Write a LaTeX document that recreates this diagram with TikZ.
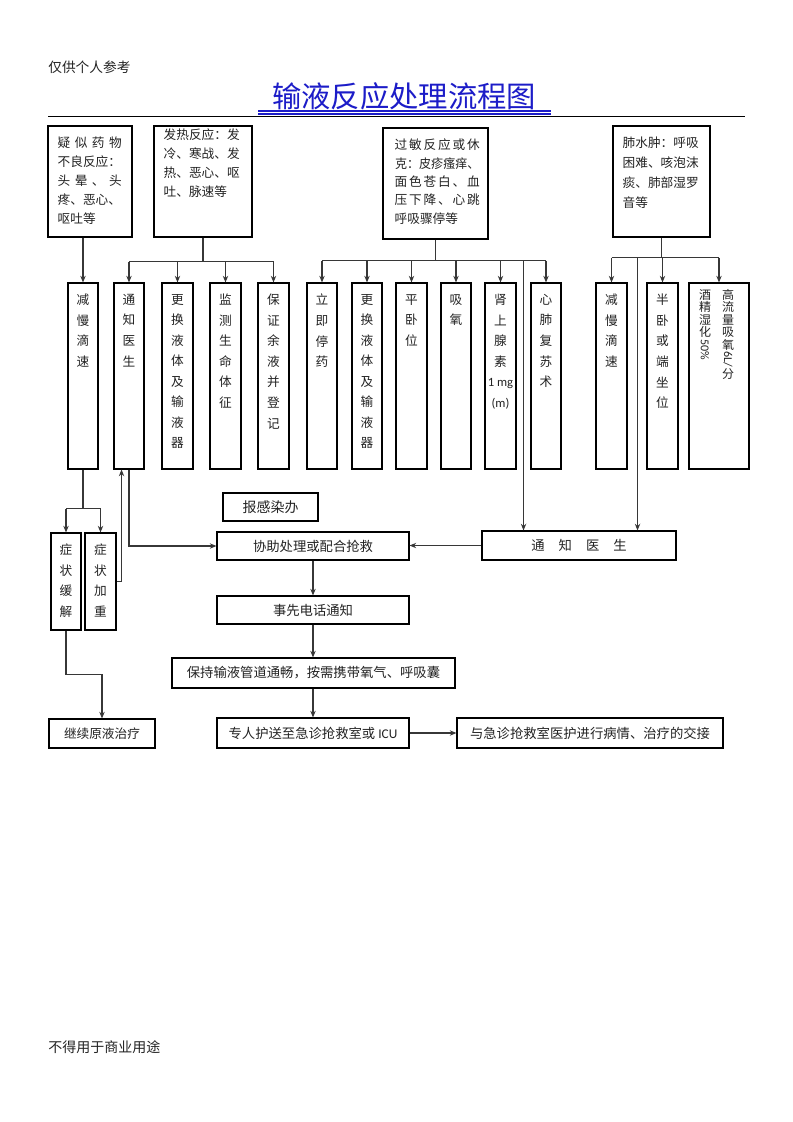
\documentclass[tikz,border=0pt]{standalone}
\usepackage{fontspec}
\usepackage{graphicx}
\setmainfont{Noto Sans CJK SC}
\newfontfamily\lat{Carlito}
\usetikzlibrary{arrows.meta,calc}
\definecolor{ttl}{RGB}{28,28,200}
\definecolor{lnc}{RGB}{55,55,55}
\definecolor{txt}{RGB}{35,35,35}
\newcommand\hf{\hfill}
\newcommand\pbox[7][]{\node[box,minimum width={(#5-#3)*0.75pt},minimum height={(#6-#4)*0.75pt},#1] (#2) at ({(#3+#5)/2},{(#4+#6)/2}) {#7};}
\begin{document}
\begin{tikzpicture}[x=0.75pt,y=-0.75pt,
  box/.style={draw=black,line width=0.8pt,inner sep=0pt,align=center,text=txt,font=\fontsize{10}{13}\selectfont},
  stk/.style={inner sep=0pt,align=center,text=txt,anchor=north,font=\fontsize{9.5}{15.4}\selectfont},
  stkb/.style={inner sep=0pt,align=center,text=txt,anchor=north,font=\fontsize{9}{9.4}\selectfont},
  tb/.style={inner sep=0pt,anchor=north west,align=left,text=txt,font=\fontsize{9.5}{14.25}\selectfont},
  conn/.style={draw=lnc,line width=0.8pt},
  arr/.style={draw=lnc,line width=0.8pt,-{Stealth[length=5pt,width=4pt]}}]
\fill[white] (0,0) rectangle (793,1122);
\useasboundingbox (0,0) rectangle (793,1122);

% header / footer
\node[anchor=west,inner sep=0pt,text=txt,font=\fontsize{10.3}{12}\selectfont] (hdr) at (48,67) {仅供个人参考};
\node[anchor=west,inner sep=0pt,text=txt,font=\fontsize{10.5}{12}\selectfont] (ftr) at (48,1047) {不得用于商业用途};

% title
\node[inner sep=0pt,text=ttl,font=\fontsize{22}{26}\selectfont] (title) at (404,96) {输液反应处理流程图};
\draw[ttl,line width=1.5pt] (258,111) -- (551,111);
\draw[ttl,line width=1.3pt] (258,114.3) -- (551,114.3);
\draw[black,line width=0.8pt] (48,116.6) -- (745,116.6);

% top boxes
\pbox{t1}{48}{126}{132}{237}{}
\pbox{t2}{154}{126}{252}{237}{}
\pbox{t3}{383}{128}{488}{239}{}
\pbox{t4}{613}{126}{710}{237}{}
\node[tb] (t1x) at ($(t1.north west)+(10,11.5)$) {\makebox[48pt]{疑\hf 似\hf 药\hf 物}\\不良反应：\\\makebox[48pt]{头\hf 晕\hf 、\hf 头}\\疼、恶心、\\呕吐等};
\node[tb] (t2x) at ($(t2.north west)+(10,3.5)$) {发热反应：发\\冷、寒战、发\\热、恶心、呕\\吐、脉速等};
\node[tb,font=\fontsize{9.5}{13.7}\selectfont] (t3x) at ($(t3.north west)+(12,11.5)$) {\makebox[63.75pt]{过\hf 敏\hf 反\hf 应\hf 或\hf 休}\\\makebox[63.75pt]{\scalebox{0.95}[1]{克：皮疹瘙痒、}}\\\makebox[63.75pt]{面\hf 色\hf 苍\hf 白\hf 、\hf 血}\\\makebox[63.75pt]{压\hf 下\hf 降\hf 、\hf 心\hf 跳}\\呼吸骤停等};
\node[tb,font=\fontsize{9.5}{15}\selectfont] (t4x) at ($(t4.north west)+(10,11.5)$) {肺水肿：呼吸\\困难、咳泡沫\\痰、肺部湿罗\\音等};

% column boxes
\pbox{c1}{68}{283}{98}{469}{}
\pbox{c2}{114}{283}{144}{469}{}
\pbox{c3}{162}{283}{193}{469}{}
\pbox{c4}{210}{283}{241}{469}{}
\pbox{c5}{258}{283}{289}{469}{}
\pbox{d1}{307}{283}{337}{469}{}
\pbox{d2}{352}{283}{382}{469}{}
\pbox{d3}{396}{283}{427}{469}{}
\pbox{d4}{441}{283}{471}{469}{}
\pbox{d5}{485}{283}{516}{469}{}
\pbox{d6}{531}{283}{561}{469}{}
\pbox{e1}{596}{283}{627}{469}{}
\pbox{e2}{647}{283}{678}{469}{}
\pbox{e3}{689}{283}{749}{469}{}

\node[stk] (c1x) at ($(c1.north)+(0,11.5)$) {减\\慢\\滴\\速};
\node[stk] (c2x) at ($(c2.north)+(0,11.5)$) {通\\知\\医\\生};
\node[stk] (c3x) at ($(c3.north)+(0,11.5)$) {更\\换\\液\\体\\及\\输\\液\\器};
\node[stk] (c4x) at ($(c4.north)+(0,11.5)$) {监\\测\\生\\命\\体\\征};
\node[stk] (c5x) at ($(c5.north)+(0,11.5)$) {保\\证\\余\\液\\并\\登\\记};
\node[stk] (d1x) at ($(d1.north)+(0,11.5)$) {立\\即\\停\\药};
\node[stk] (d2x) at ($(d2.north)+(0,11.5)$) {更\\换\\液\\体\\及\\输\\液\\器};
\node[stk] (d3x) at ($(d3.north)+(0,11.5)$) {平\\卧\\位};
\node[stk] (d4x) at ($(d4.north)+(0,11.5)$) {吸\\氧};
\node[stk] (d5x) at ($(d5.north)+(0,11.5)$) {肾\\上\\腺\\素\\{\lat 1 mg}\\{\lat (m)}};
\node[stk] (d6x) at ($(d6.north)+(0,11.5)$) {心\\肺\\复\\苏\\术};
\node[stk] (e1x) at ($(e1.north)+(0,11.5)$) {减\\慢\\滴\\速};
\node[stk] (e2x) at ($(e2.north)+(0,11.5)$) {半\\卧\\或\\端\\坐\\位};
\node[stkb] (e3r) at ($(e3.north)+(9,6.5)$) {高\\流\\量\\吸\\氧\\\rotatebox[origin=c]{-90}{\lat 6L/}\\分};
\node[stkb] (e3l) at ($(e3.north)+(-14,6.5)$) {酒\\精\\湿\\化\\\rotatebox[origin=c]{-90}{\lat 50\%}};

% lower boxes
\pbox{s1}{51}{533}{81}{630}{}
\pbox{s2}{85}{533}{116}{630}{}
\node[stk] (s1x) at ($(s1.north)+(0,11.5)$) {症\\状\\缓\\解};
\node[stk] (s2x) at ($(s2.north)+(0,11.5)$) {症\\状\\加\\重};
\pbox{r1}{223}{493}{318}{521}{\fontsize{10.5}{12}\selectfont 报感染办}
\pbox{h1}{217}{532}{409}{560}{协助处理或配合抢救}
\pbox{n2}{482}{531}{676}{560}{通\hspace{1.05em}知\hspace{1.05em}医\hspace{1.05em}生}
\pbox{h2}{217}{596}{409}{624}{事先电话通知}
\pbox{h3}{172}{658}{455}{688}{保持输液管道通畅，按需携带氧气、呼吸囊}
\pbox{h4}{217}{718}{409}{748}{专人护送至急诊抢救室或 {\lat ICU}}
\pbox{h5}{457}{718}{723}{748}{与急诊抢救室医护进行病情、治疗的交接}
\pbox{k1}{49}{719}{155}{748}{\fontsize{9.5}{12}\selectfont 继续原液治疗}

% connectors: top row
\draw[arr] (t1.south -| c1.north) -- (c1.north);

\coordinate (b2) at ($(t2.south)+(0,24)$);
\draw[conn] (t2.south) -- (b2);
\draw[conn] (b2 -| c2.north) -- (b2 -| c5.north);
\foreach \n in {c2,c3,c4,c5} \draw[arr] (b2 -| \n.north) -- (\n.north);

\coordinate (b3) at ($(t3.south)+(0,21)$);
\draw[conn] (t3.south) -- (b3);
\draw[conn] (b3 -| d1.north) -- (b3 -| d6.north);
\foreach \n in {d1,d2,d3,d4,d5,d6} \draw[arr] (b3 -| \n.north) -- (\n.north);
\coordinate (j3) at ($(b3 -| d5.east)+(7,0)$);
\draw[arr] (j3) -- (j3 |- n2.north);

\coordinate (b4) at ($(t4.south)+(0,20)$);
\draw[conn] (t4.south) -- (b4);
\draw[conn] (b4 -| e1.north) -- (b4 -| e3.north);
\foreach \n in {e1,e2,e3} \draw[arr] (b4 -| \n.north) -- (\n.north);
\coordinate (j4) at ($(b4 -| e1.east)+(10,0)$);
\draw[arr] (j4) -- (j4 |- n2.north);

% connectors: lower part
\coordinate (b5) at ($(c1.south)+(0,39)$);
\draw[conn] (c1.south) -- (b5);
\draw[conn] (b5 -| s1.north) -- (b5 -| s2.north);
\draw[arr] (b5 -| s1.north) -- (s1.north);
\draw[arr] (b5 -| s2.north) -- (s2.north);

\coordinate (j6) at ($(s2.east)+(5,0)$);
\draw[arr] (s2.east) -- (j6) -- (j6 |- c2.south);

\draw[arr] ([xshift=0pt]c2.south) |- (h1.west);
\draw[arr] (n2.west) -- (n2.west -| h1.east);
\draw[arr] (h1.south) -- (h2.north);
\draw[arr] (h2.south) -- (h2.south |- h3.north);
\draw[arr] (h3.south -| h4.north) -- (h4.north);
\draw[arr] (h4.east) -- (h5.west);

\coordinate (j7) at ($(s1.south)+(0,44)$);
\draw[arr] (s1.south) -- (j7) -| (k1.north);
\end{tikzpicture}
\end{document}
